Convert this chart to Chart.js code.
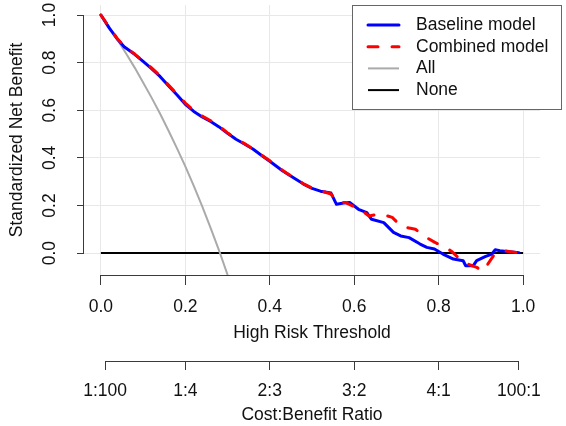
<!DOCTYPE html>
<html><head><meta charset="utf-8">
<script src="https://cdn.jsdelivr.net/npm/chart.js@4.4.0/dist/chart.umd.min.js"></script>
<style>html,body{margin:0;padding:0;background:#fff;}canvas{display:block;}</style>
</head><body>
<canvas id="c" width="566" height="426"></canvas>
<script>
// ---------- data ----------
const xTicks = [0, 0.2, 0.4, 0.6, 0.8, 1.0];
const xTickLabels = ['0.0', '0.2', '0.4', '0.6', '0.8', '1.0'];
const yTicks = [0, 0.2, 0.4, 0.6, 0.8, 1.0];
const yTickLabels = ['0.0', '0.2', '0.4', '0.6', '0.8', '1.0'];
const ratioTicks = [0.01, 0.2, 0.4, 0.6, 0.8, 0.99];
const ratioLabels = ['1:100', '1:4', '2:3', '3:2', '4:1', '100:1'];
const seriesNames = ['Baseline model', 'Combined model', 'All', 'None'];

const baseX = [0.00,0.02,0.04,0.055,0.08,0.10,0.12,0.14,0.16,0.18,0.20,0.22,0.24,0.26,0.28,0.30,0.32,0.34,0.36,0.38,0.40,0.43,0.46,0.48,0.50,0.52,0.545,0.558,0.575,0.59,0.61,0.63,0.641,0.67,0.693,0.71,0.73,0.756,0.772,0.79,0.81,0.835,0.858,0.864,0.882,0.89,0.91,0.926,0.934,0.945,0.99];
const baseY = [1.000,0.945,0.897,0.867,0.835,0.805,0.775,0.742,0.703,0.665,0.625,0.595,0.572,0.553,0.530,0.503,0.478,0.458,0.437,0.411,0.386,0.346,0.312,0.290,0.272,0.260,0.252,0.205,0.210,0.212,0.184,0.170,0.142,0.128,0.087,0.072,0.065,0.038,0.024,0.017,-0.004,-0.025,-0.032,-0.053,-0.053,-0.032,-0.015,-0.004,0.014,0.010,0.002];

const combX = [0.00,0.02,0.04,0.06,0.08,0.10,0.12,0.14,0.16,0.18,0.20,0.22,0.24,0.26,0.28,0.30,0.32,0.34,0.36,0.38,0.40,0.43,0.46,0.48,0.50,0.52,0.545,0.56,0.58,0.60,0.62,0.635,0.655,0.675,0.69,0.71,0.73,0.745,0.765,0.79,0.815,0.83,0.845,0.86,0.875,0.89,0.905,0.915,0.93,0.953,0.97,0.99];
const combY = [1.000,0.948,0.898,0.862,0.836,0.807,0.778,0.745,0.706,0.668,0.630,0.598,0.575,0.556,0.533,0.505,0.480,0.460,0.438,0.412,0.388,0.348,0.313,0.291,0.273,0.262,0.248,0.215,0.212,0.195,0.175,0.156,0.163,0.158,0.150,0.115,0.105,0.100,0.072,0.046,0.025,0.008,-0.017,-0.038,-0.050,-0.060,-0.075,-0.050,-0.011,0.010,0.006,0.000];

const allX = [0.00,0.02,0.04,0.06,0.08,0.10,0.12,0.14,0.16,0.18,0.20,0.22,0.24,0.26,0.28,0.30,0.31];
const allY = [1.000,0.948,0.894,0.837,0.779,0.717,0.653,0.586,0.515,0.441,0.364,0.282,0.196,0.105,0.010,-0.091,-0.144];

const noneX = [0, 1];
const noneY = [0, 0];

// ---------- styling ----------
const FONT = 'Liberation Sans, Arial, sans-serif';
const FS = 17.5;
const TEXT = '#111';
const AXIS = '#3a3a3a';
const GRID = '#e8e8e8';

Chart.defaults.font.family = FONT;
Chart.defaults.font.size = FS;
Chart.defaults.color = TEXT;

const pts = (xs, ys) => xs.map((v, i) => ({x: v, y: ys[i]}));

const setTicks = vals => scale => { scale.ticks = vals.map(v => ({value: v})); };

const rPlugin = {
  id: 'rStyle',
  afterDraw(chart) {
    const {ctx, scales: {x, y, x2}} = chart;
    ctx.save();
    ctx.strokeStyle = AXIS;
    ctx.lineWidth = 1;
    ctx.beginPath();
    const xl = Math.round(x.top) + 0.5;
    ctx.moveTo(x.getPixelForValue(xTicks[0]), xl);
    ctx.lineTo(x.getPixelForValue(xTicks[xTicks.length - 1]), xl);
    const x2l = Math.round(x2.top) + 0.5;
    ctx.moveTo(x2.getPixelForValue(ratioTicks[0]), x2l);
    ctx.lineTo(x2.getPixelForValue(ratioTicks[ratioTicks.length - 1]), x2l);
    const yl = Math.round(y.right) - 0.5;
    ctx.moveTo(yl, y.getPixelForValue(yTicks[0]));
    ctx.lineTo(yl, y.getPixelForValue(yTicks[yTicks.length - 1]));
    ctx.stroke();

    // rotated y tick labels
    ctx.fillStyle = TEXT;
    ctx.font = FS + 'px ' + FONT;
    ctx.textAlign = 'center';
    ctx.textBaseline = 'middle';
    yTicks.forEach((v, i) => {
      ctx.save();
      ctx.translate(50, y.getPixelForValue(v));
      ctx.rotate(-Math.PI / 2);
      ctx.fillText(yTickLabels[i], 0, 0);
      ctx.restore();
    });

    // legend
    const L = 352, T = 5, R = 562, B = 110;
    ctx.fillStyle = '#fff';
    ctx.fillRect(L, T, R - L, B - T);
    ctx.strokeStyle = '#666';
    ctx.lineWidth = 1;
    ctx.strokeRect(L + 0.5, T + 0.5, R - L - 1, B - T - 1);
    chart.data.datasets.forEach((ds, i) => {
      const cy = 25 + i * 21.7;
      ctx.save();
      ctx.strokeStyle = ds.borderColor;
      ctx.lineWidth = ds.borderWidth;
      ctx.lineCap = ds.borderCapStyle || 'butt';
      ctx.setLineDash(ds.borderDash || []);
      ctx.beginPath();
      ctx.moveTo(368, cy);
      ctx.lineTo(399, cy);
      ctx.stroke();
      ctx.restore();
      ctx.fillStyle = TEXT;
      ctx.textAlign = 'left';
      ctx.textBaseline = 'middle';
      ctx.fillText(ds.label, 416, cy);
    });
    ctx.restore();
  }
};

new Chart(document.getElementById('c'), {
  type: 'line',
  data: {
    datasets: [
      {label: seriesNames[0], data: pts(baseX, baseY), borderColor: '#0000ff', borderWidth: 3, order: 1, borderCapStyle: 'round', borderJoinStyle: 'round'},
      {label: seriesNames[1], data: pts(combX, combY), borderColor: '#ff0000', borderWidth: 3, borderDash: [10, 14], order: 0, borderCapStyle: 'round', borderJoinStyle: 'round'},
      {label: seriesNames[2], data: pts(allX, allY), borderColor: '#aaaaaa', borderWidth: 2, order: 2, borderCapStyle: 'butt'},
      {label: seriesNames[3], data: pts(noneX, noneY), borderColor: '#000000', borderWidth: 2, order: 3, borderCapStyle: 'butt'}
    ]
  },
  options: {
    responsive: false,
    animation: false,
    devicePixelRatio: 1,
    layout: {padding: {top: 5, right: 26, left: 0, bottom: 0}},
    elements: {point: {radius: 0}, line: {tension: 0}},
    plugins: {legend: {display: false}, tooltip: {enabled: false}},
    scales: {
      x: {
        type: 'linear', position: 'bottom', weight: 0,
        min: -0.04, max: 1.04,
        afterBuildTicks: setTicks(xTicks),
        afterFit: s => { s.height = 86; },
        grid: {color: GRID, tickColor: AXIS, tickLength: 10, lineWidth: 1},
        border: {display: false},
        ticks: {autoSkip: false, maxRotation: 0, minRotation: 0, padding: 12, color: TEXT,
          callback: (v, i) => xTickLabels[i]},
        title: {display: true, text: 'High Risk Threshold', color: TEXT, padding: {top: 0, bottom: 17}}
      },
      x2: {
        type: 'linear', position: 'bottom', weight: 1,
        min: -0.04, max: 1.04,
        afterBuildTicks: setTicks(ratioTicks),
        afterFit: s => { s.height = 65; },
        grid: {drawOnChartArea: false, tickColor: AXIS, tickLength: 9},
        border: {display: false},
        ticks: {autoSkip: false, maxRotation: 0, minRotation: 0, padding: 11, color: TEXT,
          callback: (v, i) => ratioLabels[i]},
        title: {display: true, text: 'Cost:Benefit Ratio', color: TEXT, padding: {top: 0, bottom: 0}}
      },
      y: {
        type: 'linear', position: 'left',
        min: -0.092, max: 1.042,
        afterBuildTicks: setTicks(yTicks),
        afterFit: s => { s.width = 84; },
        grid: {color: GRID, tickColor: AXIS, tickLength: 7, lineWidth: 1},
        border: {display: false},
        ticks: {display: false},
        title: {display: true, text: 'Standardized Net Benefit', color: TEXT, padding: {top: 7, bottom: 0}}
      }
    }
  },
  plugins: [rPlugin]
});
</script>
</body></html>
